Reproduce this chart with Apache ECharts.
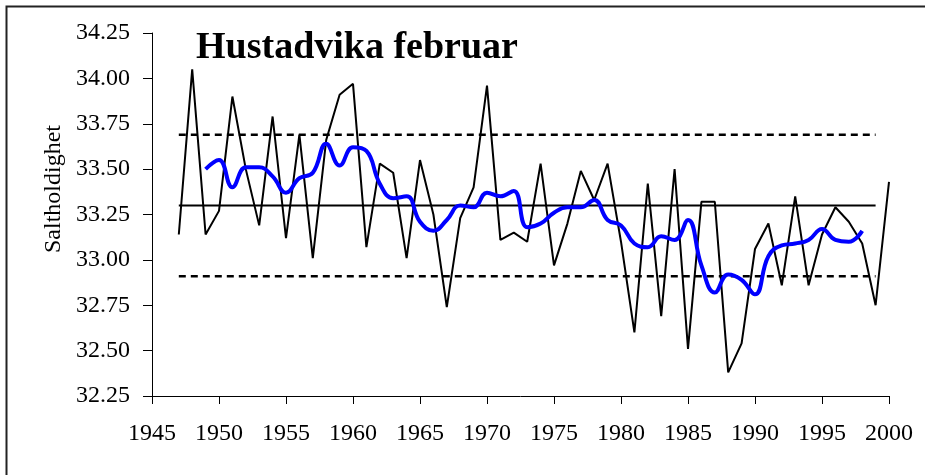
<!DOCTYPE html>
<html>
<head>
<meta charset="utf-8">
<script src="https://cdn.jsdelivr.net/npm/echarts@6/dist/echarts.min.js"></script>
<style>
html,body{margin:0;padding:0;background:#fff;}
#chart{width:925px;height:475px;}
</style>
</head>
<body>
<div id="chart"></div>
<script>
// Annual salinity values
var years = [1947,1948,1949,1950,1951,1952,1953,1954,1955,1956,1957,1958,1959,1960,
  1961,1962,1963,1964,1965,1966,1967,1968,1969,1970,1971,1972,1973,1974,1975,1976,
  1977,1978,1979,1980,1981,1982,1983,1984,1985,1986,1987,1988,1989,1990,1991,1992,
  1993,1994,1995,1996,1997,1998,1999,2000];
var salinity = [33.14,34.05,33.14,33.27,33.90,33.50,33.19,33.79,33.12,33.69,33.01,33.66,33.91,33.97,
  33.07,33.53,33.48,33.01,33.55,33.25,32.74,33.23,33.40,33.96,33.11,33.15,33.10,33.53,32.97,33.20,
  33.49,33.33,33.53,33.10,32.60,33.42,32.69,33.50,32.51,33.32,33.32,32.38,32.54,33.06,33.20,32.86,
  33.35,32.86,33.14,33.29,33.21,33.09,32.75,33.43];

// Smoothed (running mean) curve
var smoothYears = [1949,1950,1951,1952,1953,1954,1955,1956,1957,1958,1959,1960,1961,1962,
  1963,1964,1965,1966,1967,1968,1969,1970,1971,1972,1973,1974,1975,1976,1977,1978,1979,
  1980,1981,1982,1983,1984,1985,1986,1987,1988,1989,1990,1991,1992,1993,1994,1995,1996,1997,1998];
var smoothValues = [33.50,33.55,33.40,33.51,33.51,33.46,33.37,33.45,33.48,33.64,33.52,33.62,33.60,33.42,
  33.34,33.35,33.21,33.16,33.22,33.30,33.29,33.37,33.35,33.38,33.18,33.20,33.26,33.29,33.29,33.33,33.22,
  33.19,33.09,33.07,33.13,33.11,33.22,32.97,32.82,32.92,32.89,32.81,33.02,33.08,33.09,33.11,33.17,33.11,33.10,33.16];

// Reference lines: mean and mean +/- std
var refYears = [1947, 1999];
var meanValue = 33.30;
var upperValue = 33.69;
var lowerValue = 32.91;

var titleText = 'Hustadvika februar';
var yAxisName = 'Saltholdighet';

var FONT = '"Liberation Serif","Times New Roman",serif';

function pairs(xs, ys){ var out=[]; for (var i=0;i<xs.length;i++) out.push([xs[i], ys[i]]); return out; }
function flat(xs, v){ return xs.map(function(x){ return [x, v]; }); }

var chart = echarts.init(document.getElementById('chart'), null, {renderer:'canvas'});
chart.setOption({
  animation: false,
  backgroundColor: '#ffffff',
  grid: {left: 152, right: 36, top: 33, bottom: 79, containLabel: false},
  xAxis: {
    type: 'value', min: 1945, max: 2000, interval: 5,
    axisLine: {show: true, onZero: false, lineStyle: {color: '#000', width: 1}},
    axisTick: {show: true, length: 8, lineStyle: {color: '#000', width: 1}},
    axisLabel: {color: '#000', fontFamily: FONT, fontSize: 24, margin: 26,
      formatter: function(v){ return String(v); }},
    splitLine: {show: false}
  },
  yAxis: {
    type: 'value', min: 32.25, max: 34.25, interval: 0.25,
    axisLine: {show: true, onZero: false, lineStyle: {color: '#000', width: 1}},
    axisTick: {show: true, length: 9, lineStyle: {color: '#000', width: 1}},
    axisLabel: {color: '#000', fontFamily: FONT, fontSize: 24, margin: 22,
      formatter: function(v){ return v.toFixed(2); }},
    splitLine: {show: false}
  },
  graphic: [
    {type: 'polyline', silent: true, shape: {points: [[6.5, 475], [6.5, 6.5], [925, 6.5]]},
      style: {stroke: '#222', lineWidth: 2, fill: null}},
    {type: 'text', x: 196, y: 48, silent: true,
      style: {text: titleText, font: 'bold 38px ' + FONT, fill: '#000',
        textAlign: 'left', textVerticalAlign: 'middle'}},
    {type: 'text', x: 54, y: 189, rotation: Math.PI/2, silent: true,
      style: {text: yAxisName, font: '24px ' + FONT, fill: '#000',
        textAlign: 'center', textVerticalAlign: 'middle'}}
  ],
  series: [
    {type: 'line', data: flat(refYears, upperValue), symbol: 'none', silent: true,
      lineStyle: {color: '#000', width: 2.5, type: [7, 5]}},
    {type: 'line', data: flat(refYears, lowerValue), symbol: 'none', silent: true,
      lineStyle: {color: '#000', width: 2.5, type: [7, 5]}},
    {type: 'line', data: flat(refYears, meanValue), symbol: 'none', silent: true,
      lineStyle: {color: '#000', width: 2}},
    {type: 'line', data: pairs(years, salinity), symbol: 'none', silent: true,
      lineStyle: {color: '#000', width: 2}},
    {type: 'line', data: pairs(smoothYears, smoothValues), symbol: 'none', silent: true, smooth: 0.45,
      lineStyle: {color: '#0000ff', width: 4}}
  ]
});
</script>
</body>
</html>
